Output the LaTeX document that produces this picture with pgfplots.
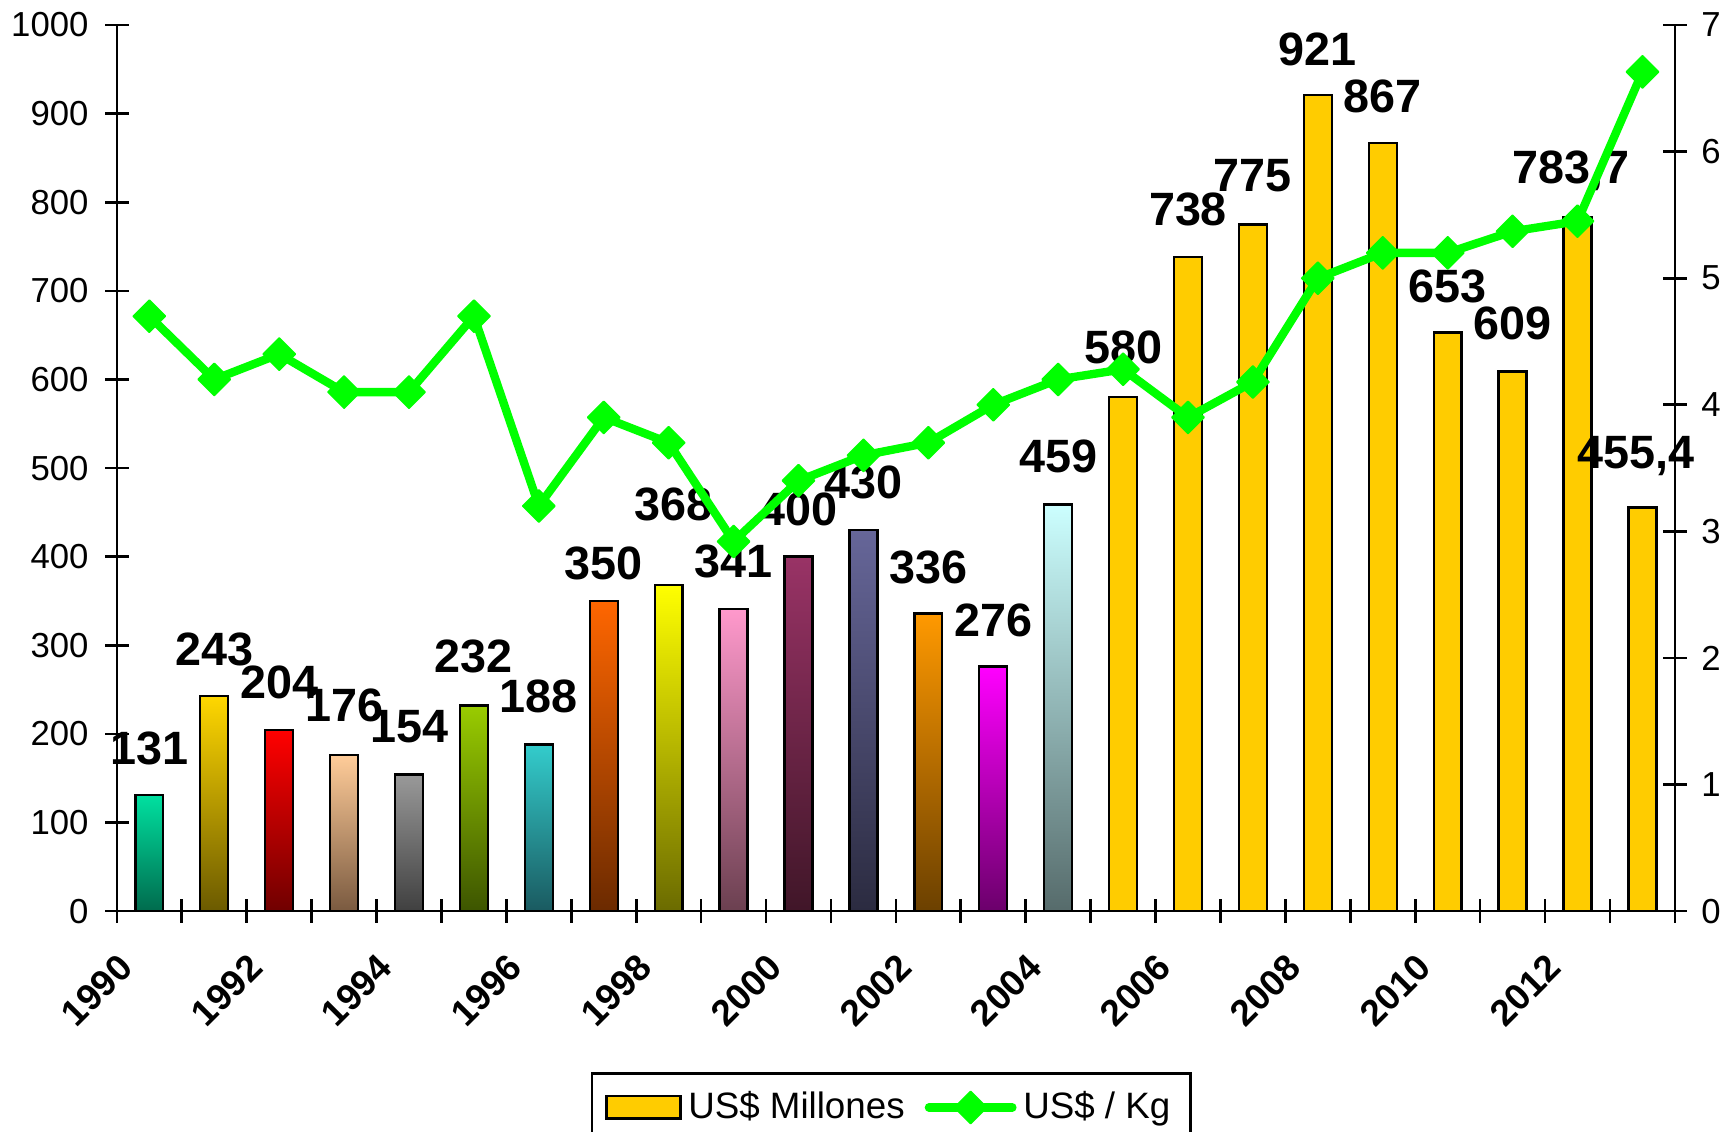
\documentclass[border=0pt]{standalone}
\usepackage{fontspec}
\setmainfont{Liberation Sans}
\usepackage{pgfplots}
\pgfplotsset{compat=1.18}
\definecolor{gold}{HTML}{FFCC00}
\definecolor{lime}{HTML}{00FF00}
\definecolor{aT}{HTML}{00E0A0}\definecolor{aB}{HTML}{006B4D}
\definecolor{bT}{HTML}{FFD700}\definecolor{bB}{HTML}{6B5A00}
\definecolor{cT}{HTML}{FF0000}\definecolor{cB}{HTML}{700000}
\definecolor{dT}{HTML}{FFCC99}\definecolor{dB}{HTML}{7A5A40}
\definecolor{eT}{HTML}{999999}\definecolor{eB}{HTML}{404040}
\definecolor{fT}{HTML}{99CC00}\definecolor{fB}{HTML}{3D5500}
\definecolor{gT}{HTML}{33CCCC}\definecolor{gB}{HTML}{1A5A60}
\definecolor{hT}{HTML}{FF6600}\definecolor{hB}{HTML}{6B2A00}
\definecolor{iT}{HTML}{FFFF00}\definecolor{iB}{HTML}{6B6B00}
\definecolor{jT}{HTML}{FF99CC}\definecolor{jB}{HTML}{6B4050}
\definecolor{kT}{HTML}{993366}\definecolor{kB}{HTML}{401628}
\definecolor{lT}{HTML}{666699}\definecolor{lB}{HTML}{2B2B40}
\definecolor{mT}{HTML}{FF9900}\definecolor{mB}{HTML}{6B4000}
\definecolor{nT}{HTML}{FF00FF}\definecolor{nB}{HTML}{6B006B}
\definecolor{oT}{HTML}{CCFFFF}\definecolor{oB}{HTML}{566B6B}
\pgfplotsset{
  mybar/.style 2 args={ybar, bar width=0.43, bar shift=0pt, draw=black, line width=0.7pt, top color=#1, bottom color=#2, forget plot},
  barlegend/.style={legend image code/.code={\draw[##1] (0pt,-3.4pt) rectangle (22pt,3.4pt);}},
  linelegend/.style={legend image code/.code={\draw[##1, line cap=round, mark repeat=2, mark phase=2] plot coordinates {(0pt,0pt) (12.5pt,0pt) (25pt,0pt)};}},
}
\newcommand{\tickfont}{\fontsize{10.4}{12}\selectfont}
\begin{document}
\begin{tikzpicture}
\begin{axis}[
  name=ax, scale only axis, width=466.5pt, height=265.3pt,
  xmin=1989.5, xmax=2013.5, ymin=0, ymax=1000,
  axis x line*=bottom, axis y line*=left,
  axis line style={line width=0.8pt, black},
  xtick={1989.5,1990.5,1991.5,1992.5,1993.5,1994.5,1995.5,1996.5,1997.5,1998.5,1999.5,2000.5,2001.5,2002.5,2003.5,2004.5,2005.5,2006.5,2007.5,2008.5,2009.5,2010.5,2011.5,2012.5,2013.5},
  xticklabels={},
  extra x ticks={1990,1992,1994,1996,1998,2000,2002,2004,2006,2008,2010,2012},
  extra x tick labels={1990,1992,1994,1996,1998,2000,2002,2004,2006,2008,2010,2012},
  extra x tick style={major tick length=0pt, xticklabel style={anchor=east, inner sep=0pt, font=\fontsize{11}{13}\selectfont\bfseries, xshift=-6.9pt, yshift=-14.9pt, rotate=45}},
  ytick={0,100,200,300,400,500,600,700,800,900,1000},
  tick align=center, major tick length=7pt,
  tick style={line width=0.8pt, black},
  yticklabel style={font=\tickfont, inner sep=0pt, xshift=-4.8pt},
  /pgf/number format/1000 sep={}, /pgf/number format/assume math mode=true,
  clip=false,
]
\coordinate (sw) at (rel axis cs:0,0);
\coordinate (ne) at (rel axis cs:1,1);
\addplot[mybar={aT}{aB}] coordinates {(1990,131)};
\addplot[mybar={bT}{bB}] coordinates {(1991,243)};
\addplot[mybar={cT}{cB}] coordinates {(1992,204)};
\addplot[mybar={dT}{dB}] coordinates {(1993,176)};
\addplot[mybar={eT}{eB}] coordinates {(1994,154)};
\addplot[mybar={fT}{fB}] coordinates {(1995,232)};
\addplot[mybar={gT}{gB}] coordinates {(1996,188)};
\addplot[mybar={hT}{hB}] coordinates {(1997,350)};
\addplot[mybar={iT}{iB}] coordinates {(1998,368)};
\addplot[mybar={jT}{jB}] coordinates {(1999,341)};
\addplot[mybar={kT}{kB}] coordinates {(2000,400)};
\addplot[mybar={lT}{lB}] coordinates {(2001,430)};
\addplot[mybar={mT}{mB}] coordinates {(2002,336)};
\addplot[mybar={nT}{nB}] coordinates {(2003,276)};
\addplot[mybar={oT}{oB}] coordinates {(2004,459)};
\addplot[ybar, bar width=0.43, bar shift=0pt, draw=black, line width=0.7pt, fill=gold, forget plot]
  coordinates {(2005,580) (2006,738) (2007,775) (2008,921) (2009,867) (2010,653) (2011,609) (2012,783.7) (2013,455.4)};
\addplot[draw=none, forget plot, nodes near coords, point meta=explicit symbolic,
  every node near coord/.append style={anchor=center, inner sep=0pt, font=\fontsize{14}{16}\selectfont\bfseries}]
  table[meta=l] {
x y l
1990 183 131
1991 295 243
1992 258 204
1993 232 176
1994 208 154
1995 287 232
1996 242 188
1997 392 350
1998.07 459 368
1999 395 341
2000 453 400
2001 484 430
2002 388 336
2003 328 276
2004 513 459
2005 636 580
2006 792 738
2007 830 775
2008 972 921
2009 920 867
2010 705 653
2011 663 609
2011.9 835 783,7
2012.9 513 455,4
};
\end{axis}
\begin{axis}[
  scale only axis, width=466.5pt, height=265.3pt,
  xmin=1989.5, xmax=2013.5, ymin=0, ymax=7,
  axis x line=none, axis y line*=right,
  axis line style={line width=0.8pt, black},
  ytick={0,1,2,3,4,5,6,7},
  tick align=center, major tick length=7pt,
  tick style={line width=0.8pt, black},
  yticklabel style={font=\tickfont, inner sep=0pt, xshift=4.2pt},
  /pgf/number format/assume math mode=true,
  clip=false,
  legend columns=2,
  legend style={at={(0.497,-0.182)}, anchor=north, draw=black, line width=0.8pt,
    font=\fontsize{11}{13}\selectfont, inner xsep=4pt, inner ysep=3.3pt,
    /tikz/every even column/.append style={column sep=4pt}},
]
\addlegendimage{fill=gold, draw=black, line width=0.8pt, barlegend}
\addlegendentry{US\$ Millones}
\addplot[color=lime, line width=2.5pt, line join=round, mark=square*,
  mark size=3.4pt, mark options={rotate=45, solid, line width=0.5pt}, linelegend]
  coordinates {(1990,4.7) (1991,4.2) (1992,4.4) (1993,4.1) (1994,4.1) (1995,4.7) (1996,3.2) (1997,3.9) (1998,3.7) (1999,2.92) (2000,3.4) (2001,3.6) (2002,3.7) (2003,4.0) (2004,4.2) (2005,4.28) (2006,3.9) (2007,4.18) (2008,5.0) (2009,5.2) (2010,5.2) (2011,5.37) (2012,5.45) (2013,6.63)};
\addlegendentry{US\$ / Kg}
\end{axis}
\pgfresetboundingbox
\useasboundingbox ([xshift=-35pt,yshift=-65.9pt]sw) rectangle ([xshift=18.3pt,yshift=7.5pt]ne);
\end{tikzpicture}
\end{document}
